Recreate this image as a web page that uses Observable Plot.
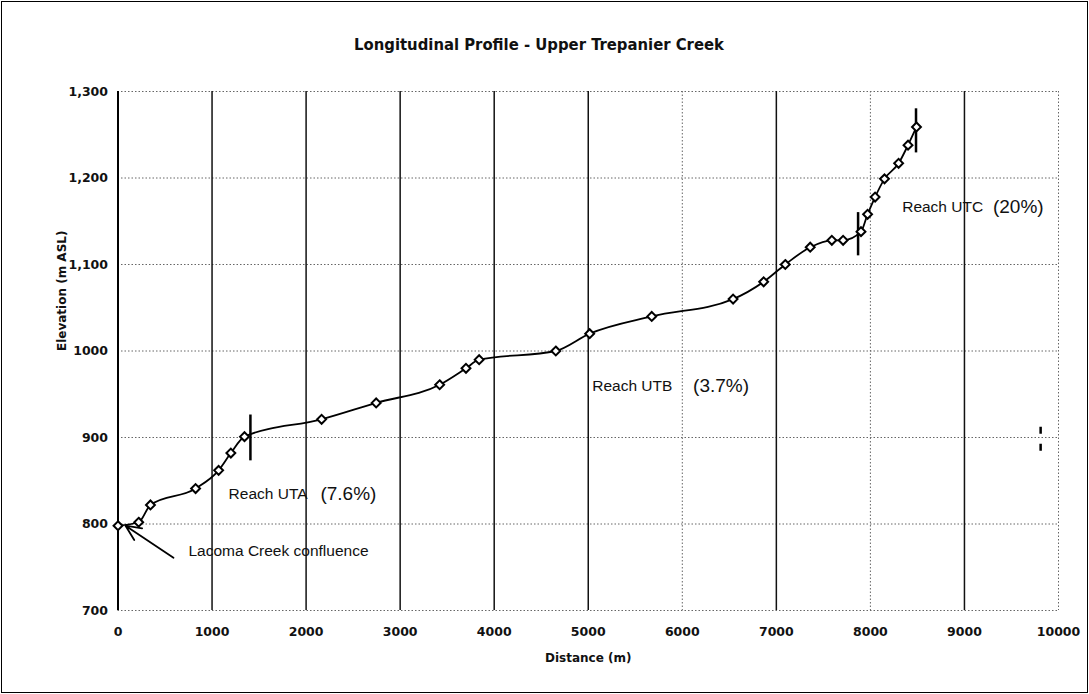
<!DOCTYPE html>
<html><head><meta charset="utf-8">
<script src="https://cdn.jsdelivr.net/npm/d3@7"></script>
<script src="https://cdn.jsdelivr.net/npm/@observablehq/plot@0.6"></script>
<style>
body{margin:0;background:#fff;}
#wrap{position:relative;width:1089px;height:694px;overflow:hidden;background:#fff;}
#chart{position:absolute;left:0;top:0;}
#border{position:absolute;left:1px;top:1px;width:1085px;height:690px;border:1.5px solid #000;pointer-events:none;}
#title{position:absolute;top:35px;left:0;width:1078px;text-align:center;font:bold 16.5px "DejaVu Sans Condensed","DejaVu Sans",sans-serif;color:#111;}
</style></head><body>
<div id="wrap"><div id="chart"></div><div id="title">Longitudinal Profile - Upper Trepanier Creek</div><div id="border"></div></div>
<script>
// Profile points
const distance = [0,220,345,825,1070,1200,1345,2165,2745,3420,3700,3840,4655,5015,5675,6540,6865,7095,7360,7590,7710,7900,7970,8050,8150,8300,8400,8490];
const elevation = [798,802,822,841,862,882,901,921,940,961,980,990,1000,1020,1040,1060,1080,1100,1120,1128,1128,1138,1158,1178,1199,1217,1238,1259];

// Reach break markers
const breakX = [1408, 7869, 8485];
const breakLow = [873, 1110, 1229];
const breakHigh = [926, 1160, 1280];

// Axis ticks
const xTicks = [0,1000,2000,3000,4000,5000,6000,7000,8000,9000,10000];
const xTickLabels = ["0","1000","2000","3000","4000","5000","6000","7000","8000","9000","10000"];
const yTicks = [700,800,900,1000,1100,1200,1300];
const yTickLabels = ["700","800","900","1000","1,100","1,200","1,300"];

// Annotations
const reachNames = ["Reach UTA","Reach UTB","Reach UTC"];
const reachX = [1176, 5042, 8338];
const reachY = [835, 960, 1167];
const slopeLabels = ["(7.6%)","(3.7%)","(20%)"];
const slopeX = [2152, 6115, 9303];

const points = distance.map((d,i)=>({x:d, y:elevation[i]}));
const breaks = breakX.map((d,i)=>({x:d, y1:breakLow[i], y2:breakHigh[i]}));
const reaches = reachNames.map((t,i)=>({t, x:reachX[i], y:reachY[i], s:slopeLabels[i], sx:slopeX[i]}));
const xLab = new Map(xTicks.map((d,i)=>[d,xTickLabels[i]]));
const yLab = new Map(yTicks.map((d,i)=>[d,yTickLabels[i]]));
const solidGrid = xTicks.filter(d => d>0 && d!==6000 && d!==8000 && d!==10000);
const dottedGrid = xTicks.filter(d => d===6000 || d===8000 || d===10000);

const bold = '"DejaVu Sans",sans-serif';
const arial = '"Liberation Sans",Arial,sans-serif';

const chart = Plot.plot({
  width: 1089, height: 694,
  marginLeft: 117.5, marginRight: 31, marginTop: 91, marginBottom: 84,
  style: {fontFamily: bold, fontSize: "12.5px", fontWeight: "bold", background: "transparent", color: "#111"},
  x: {domain: [0, 10000]},
  y: {domain: [700, 1300]},
  marks: [
    Plot.ruleY(yTicks, {stroke: "#666", strokeDasharray: "1.5,2", strokeWidth: 1}),
    Plot.ruleX(dottedGrid, {stroke: "#666", strokeDasharray: "1.5,2", strokeWidth: 1}),
    Plot.ruleX(solidGrid, {stroke: "#111", strokeWidth: 1.5}),
    Plot.ruleX([0], {stroke: "#000", strokeWidth: 2}),
    Plot.axisX({ticks: xTicks, tickFormat: d => xLab.get(d), tickSize: 0, tickPadding: 17, label: null, fontWeight: "bold"}),
    Plot.axisY({ticks: yTicks, tickFormat: d => yLab.get(d), tickSize: 0, tickPadding: 10, label: null, fontWeight: "bold"}),
    Plot.text(["Distance (m)"], {frameAnchor: "bottom", dy: 51, fontSize: 12, fontWeight: "bold", fontFamily: bold}),
    Plot.text(["Elevation (m ASL)"], {frameAnchor: "left", dx: -55.5, rotate: -90, fontSize: 12, fontWeight: "bold", fontFamily: bold}),
    Plot.ruleX(breaks, {x: "x", y1: "y1", y2: "y2", stroke: "#000", strokeWidth: 2.5}),
    Plot.ruleX([9810], {y1: 884, y2: 913, stroke: "#000", strokeWidth: 2.5, strokeDasharray: "7,10"}),
    Plot.line(points, {x: "x", y: "y", stroke: "#000", strokeWidth: 1.8, curve: "monotone-x"}),
    Plot.dot(points, {x: "x", y: "y", symbol: "diamond2", r: 4, fill: "#fff", stroke: "#000", strokeWidth: 2}),
    Plot.arrow([{x1: 590, y1: 761, x2: 80, y2: 798}], {x1: "x1", y1: "y1", x2: "x2", y2: "y2", stroke: "#000", strokeWidth: 1.8, headLength: 14, headAngle: 50}),
    Plot.text(["Lacoma Creek confluence"], {x: 749, y: 769, textAnchor: "start", fontSize: 15.5, fontWeight: "normal", fontFamily: arial}),
    Plot.text(reaches, {x: "x", y: "y", text: "t", textAnchor: "start", fontSize: 15.5, fontWeight: "normal", fontFamily: arial}),
    Plot.text(reaches, {x: "sx", y: "y", text: "s", textAnchor: "start", fontSize: 19, fontWeight: "normal", fontFamily: arial})
  ]
});
document.getElementById("chart").appendChild(chart);
</script>
</body></html>
